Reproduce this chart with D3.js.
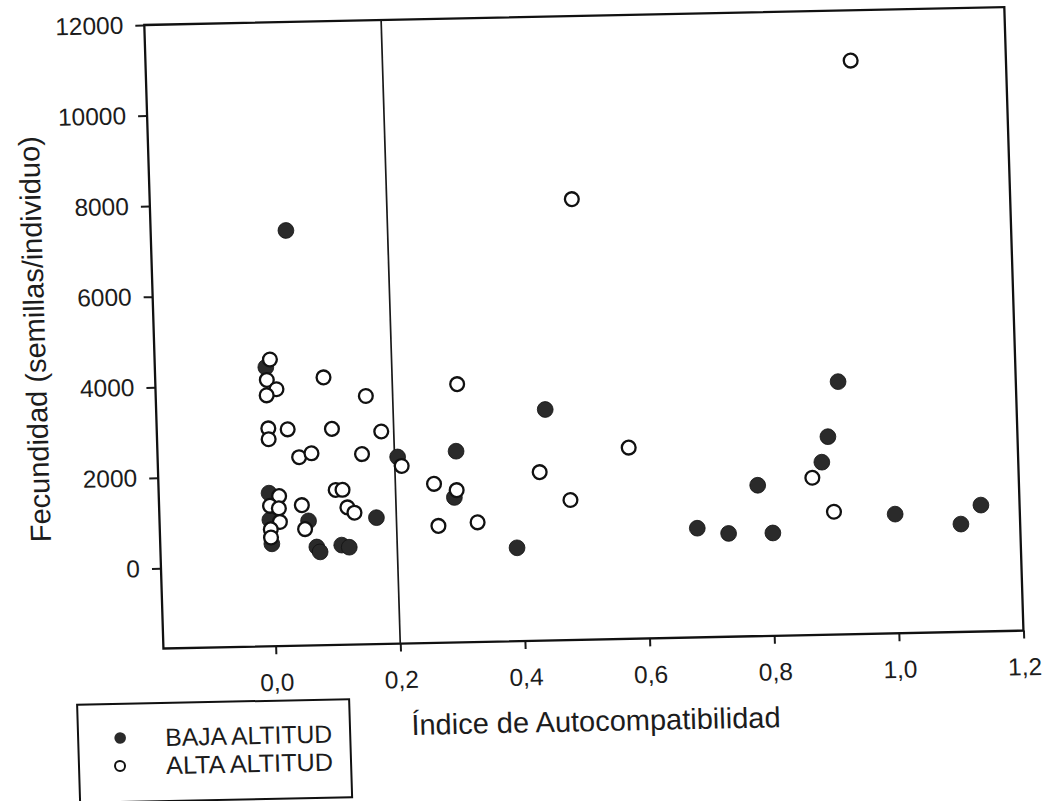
<!DOCTYPE html>
<html>
<head>
<meta charset="utf-8">
<script src="https://cdn.jsdelivr.net/npm/d3@7"></script>
<style>
  body { margin: 0; background: #fff; }
  text { font-family: "Liberation Sans", Arial, sans-serif; fill: #1c1c1c; }
</style>
</head>
<body>
<div id="scatter"></div>
<script>
// data
bajaX = [-0.002, -0.003, -0.003, 0.059, -0.001, 0.071, 0.076, 0.111, 0.123, 0.168, 0.205, 0.037,
         0.444, 0.299, 0.294, 0.392, 0.682, 0.915, 0.896, 0.885, 0.781, 1.000, 1.138, 1.105, 0.732, 0.803]
bajaY = [4390, 1610, 1020, 980, 490, 400, 290, 430, 380, 1020, 2350, 7400,
         3330, 2450, 1430, 290, 640, 3810, 2600, 2040, 1560, 860, 1020, 610, 510, 500]

altaX = [0.005, -0.001, 0.014, -0.002, 0.090, 0.157, -0.001, -0.001, 0.030, 0.101, 0.180, 0.047, 0.067,
         0.148, 0.211, 0.104, 0.115, 0.013, -0.002, 0.012, 0.049, 0.122, 0.133, 0.013, -0.002, 0.053,
         -0.002, 0.497, 0.304, 0.576, 0.432, 0.262, 0.298, 0.480, 0.267, 0.330, 0.951, 0.869, 0.902]
altaY = [4560, 4110, 3900, 3770, 4140, 3710, 3040, 2800, 3010, 3000, 2920, 2390, 2470,
         2430, 2150, 1650, 1650, 1540, 1330, 1270, 1330, 1260, 1140, 970, 810, 800,
         630, 7960, 3930, 2450, 1950, 1740, 1590, 1320, 810, 870, 10890, 1700, 940]

xTicks = [0, 0.2, 0.4, 0.6, 0.8, 1.0, 1.2]
yTicks = [0, 2000, 4000, 6000, 8000, 10000, 12000]
cutoff = 0.2
legendLabels = ['BAJA ALTITUD', 'ALTA ALTITUD']

svgWidth = 1050
svgHeight = 801
width = 860
height = 623.5

svg = d3.select('#scatter')
        .append('svg')
        .attr('width', svgWidth)
        .attr('height', svgHeight)

// the scan is a little skewed, so the whole figure sits in a sheared group
chartGroup = svg.append('g')
                .attr('transform', 'matrix(1,-0.0208,0.0307,1,144.3,25)')

xScale = d3.scaleLinear().domain([-0.18, 1.2]).range([0, width])
yScale = d3.scaleLinear().domain([-1770, 12000]).range([height, 0])

comma = d3.formatLocale({decimal: ',', thousands: '.', grouping: [3], currency: ['', '']})

bottomAxis = d3.axisBottom(xScale)
               .tickValues(xTicks)
               .tickSize(8)
               .tickPadding(19)
               .tickFormat(comma.format('.1f'))
leftAxis = d3.axisLeft(yScale)
             .tickValues(yTicks)
             .tickSize(9)
             .tickPadding(12)
             .tickFormat(d3.format('d'))

xAxisG = chartGroup.append('g')
          .attr('transform', `translate(0,${height})`)
          .call(bottomAxis)
yAxisG = chartGroup.append('g')
          .call(leftAxis)

;[xAxisG, yAxisG].forEach(function(g) {
    g.select('.domain').remove()
    g.selectAll('line').attr('stroke', '#1a1a1a').attr('stroke-width', 2)
    g.selectAll('text').attr('font-size', 24.5).attr('fill', '#1c1c1c')
})
xAxisG.selectAll('text').attr('dy', '0.72em')

// frame
chartGroup.append('rect')
          .attr('x', 0)
          .attr('y', 0)
          .attr('width', width)
          .attr('height', height)
          .attr('fill', 'none')
          .attr('stroke', '#111')
          .attr('stroke-width', 2.3)

chartGroup.append('line')
          .attr('x1', xScale(cutoff))
          .attr('x2', xScale(cutoff))
          .attr('y1', 0)
          .attr('y2', height)
          .attr('stroke', '#1a1a1a')
          .attr('stroke-width', 1.7)

baja = bajaX.map((x, i) => ({x: x, y: bajaY[i]}))
alta = altaX.map((x, i) => ({x: x, y: altaY[i]}))

chartGroup.selectAll('circle.baja')
          .data(baja)
          .enter()
          .append('circle')
          .attr('class', 'baja')
          .attr('cx', d => xScale(d.x))
          .attr('cy', d => yScale(d.y))
          .attr('r', 7.9)
          .attr('fill', '#2a2a2a')
          .attr('stroke', '#111')
          .attr('stroke-width', 0.8)

chartGroup.selectAll('circle.alta')
          .data(alta)
          .enter()
          .append('circle')
          .attr('class', 'alta')
          .attr('cx', d => xScale(d.x))
          .attr('cy', d => yScale(d.y))
          .attr('r', 6.9)
          .attr('fill', '#fff')
          .attr('stroke', '#111')
          .attr('stroke-width', 2.3)

// axis titles
chartGroup.append('text')
          .attr('transform', `translate(-109,${height / 2}) rotate(-90)`)
          .attr('text-anchor', 'middle')
          .attr('font-size', 29)
          .text('Fecundidad (semillas/individuo)')

chartGroup.append('text')
          .attr('x', width / 2)
          .attr('y', 715)
          .attr('text-anchor', 'middle')
          .attr('font-size', 29)
          .text('Índice de Autocompatibilidad')

// legend box below the axis
legend = chartGroup.append('g')
legend.append('rect')
      .attr('x', -88)
      .attr('y', 678)
      .attr('width', 272)
      .attr('height', 98)
      .attr('fill', 'none')
      .attr('stroke', '#111')
      .attr('stroke-width', 2)

legend.append('circle')
      .attr('cx', -46).attr('cy', 712).attr('r', 5.8)
      .attr('fill', '#2a2a2a')
legend.append('circle')
      .attr('cx', -47).attr('cy', 740).attr('r', 5)
      .attr('fill', '#fff').attr('stroke', '#111').attr('stroke-width', 2)

// the scanned legend font is condensed
legend.selectAll('text.lab')
      .data(legendLabels)
      .enter()
      .append('text')
      .attr('class', 'lab')
      .attr('x', -1)
      .attr('y', (d, i) => 721 + i * 28)
      .attr('font-size', 25)
      .attr('textLength', 167)
      .attr('lengthAdjust', 'spacingAndGlyphs')
      .text(d => d)
</script>
</body>
</html>
